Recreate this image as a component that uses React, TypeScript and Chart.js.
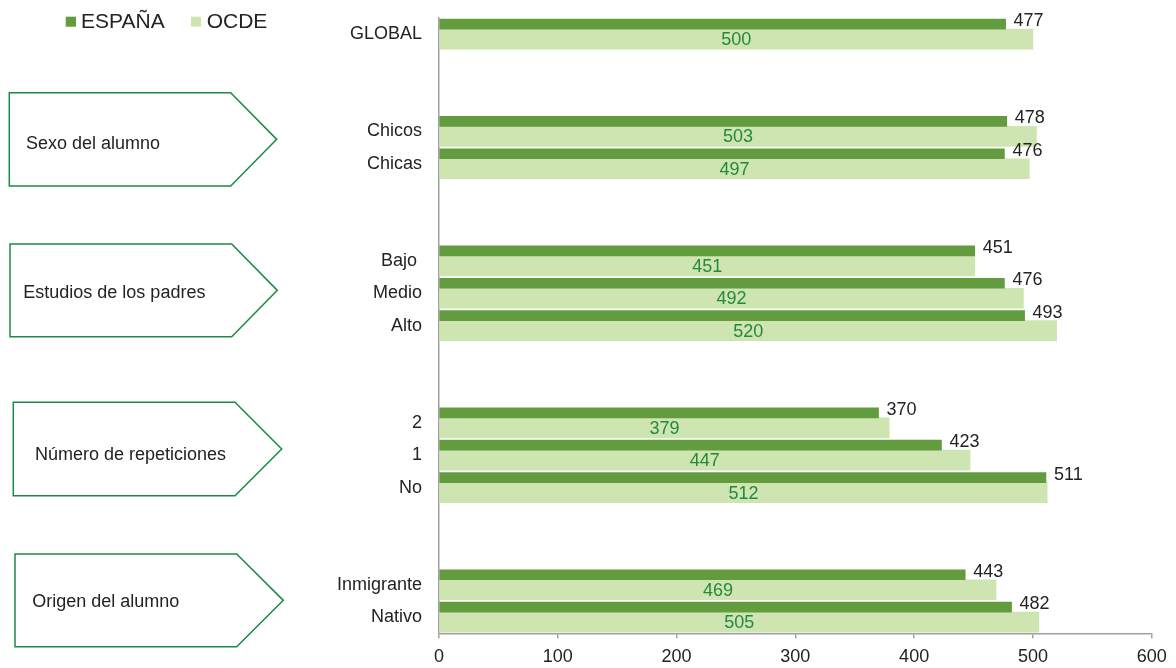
import React, { useEffect, useRef } from "react";
import { Chart, registerables } from "chart.js";

Chart.register(...registerables);

// ---------- data ----------
const categories = [
  "GLOBAL", "", "",
  "Chicos", "Chicas", "", "",
  "Bajo ", "Medio", "Alto", "", "",
  "2", "1", "No", "", "",
  "Inmigrante", "Nativo",
];
const espana = [477, null, null, 478, 476, null, null, 451, 476, 493, null, null, 370, 423, 511, null, null, 443, 482];
const ocde = [500, null, null, 503, 497, null, null, 451, 492, 520, null, null, 379, 447, 512, null, null, 469, 505];
const seriesNames = ["ESPAÑA", "OCDE"];
const groupLabels = ["Sexo del alumno", "Estudios de los padres", "Número de repeticiones", "Origen del alumno"];
const xMin = 0;
const xMax = 600;
const xStep = 100;

// ---------- styles / layout ----------
const DARK = "#639b3f";
const LIGHT = "#cee5b2";
const GREEN_TEXT = "#23893c";
const BOX_STROKE = "#1b8a45";
const TEXT = "#232323";
const AXIS = "#a0a0a0";
const FONT = "'Liberation Sans', Arial, sans-serif";
const THICK_E = 10;
const THICK_O = 20;

const boxLayout = [
  { l: 9.3, t: 92.7, r: 230.7, tip: 276.7, b: 186, tx: 26, ty: 148.5 },
  { l: 10, t: 244, r: 231.7, tip: 277.3, b: 336.7, tx: 23.3, ty: 297.5 },
  { l: 13.3, t: 402.3, r: 235, tip: 281.7, b: 495.7, tx: 35, ty: 460 },
  { l: 15, t: 554, r: 236.7, tip: 283.3, b: 646.7, tx: 32.3, ty: 606.5 },
];

const shiftPlugin = {
  id: "shiftBars",
  afterDatasetsUpdate(chart: any) {
    const m0 = chart.getDatasetMeta(0);
    const m1 = chart.getDatasetMeta(1);
    m0.data.forEach((el: any) => { el.y = el.y - THICK_O / 2; });
    m1.data.forEach((el: any) => { el.y = el.y + THICK_E / 2; });
  },
};

const labelPlugin = {
  id: "valueLabels",
  afterDatasetsDraw(chart: any) {
    const ctx = chart.ctx;
    ctx.save();
    ctx.font = `18px ${FONT}`;
    ctx.textBaseline = "middle";
    const m0 = chart.getDatasetMeta(0);
    m0.data.forEach((el: any, i: number) => {
      const v = espana[i];
      if (v == null) return;
      ctx.fillStyle = TEXT;
      ctx.textAlign = "left";
      ctx.fillText(String(v), el.x + 8, el.y - 3);
    });
    const m1 = chart.getDatasetMeta(1);
    m1.data.forEach((el: any, i: number) => {
      const v = ocde[i];
      if (v == null) return;
      ctx.fillStyle = GREEN_TEXT;
      ctx.textAlign = "center";
      ctx.fillText(String(v), (el.x + el.base) / 2, el.y + 1);
    });
    ctx.restore();
  },
};

const decorPlugin = {
  id: "decor",
  afterDraw(chart: any) {
    const ctx = chart.ctx;
    ctx.save();
    boxLayout.forEach((bx, i) => {
      const mid = (bx.t + bx.b) / 2;
      ctx.beginPath();
      ctx.moveTo(bx.l, bx.t);
      ctx.lineTo(bx.r, bx.t);
      ctx.lineTo(bx.tip, mid);
      ctx.lineTo(bx.r, bx.b);
      ctx.lineTo(bx.l, bx.b);
      ctx.closePath();
      ctx.fillStyle = "#ffffff";
      ctx.fill();
      ctx.lineWidth = 1.5;
      ctx.strokeStyle = BOX_STROKE;
      ctx.stroke();
      ctx.fillStyle = TEXT;
      ctx.font = `18px ${FONT}`;
      ctx.textAlign = "left";
      ctx.textBaseline = "alphabetic";
      ctx.fillText(groupLabels[i], bx.tx, bx.ty);
    });
    ctx.font = `21px ${FONT}`;
    ctx.textBaseline = "alphabetic";
    ctx.textAlign = "left";
    ctx.fillStyle = DARK;
    ctx.fillRect(65.7, 16.7, 10.3, 10);
    ctx.fillStyle = TEXT;
    ctx.fillText(seriesNames[0], 81, 28.3);
    ctx.fillStyle = LIGHT;
    ctx.fillRect(191, 16.7, 10, 10);
    ctx.fillStyle = TEXT;
    ctx.fillText(seriesNames[1], 206.7, 28.3);
    ctx.restore();
  },
};

export default function App() {
  const ref = useRef<HTMLCanvasElement | null>(null);
  useEffect(() => {
    if (!ref.current) return;
    const chart: any = new Chart(ref.current, {
      type: "bar",
      data: {
        labels: categories,
        datasets: [
          { label: seriesNames[0], data: espana, backgroundColor: DARK, barThickness: THICK_E, grouped: false },
          { label: seriesNames[1], data: ocde, backgroundColor: LIGHT, barThickness: THICK_O, grouped: false },
        ],
      } as any,
      options: {
        indexAxis: "y",
        animation: false,
        responsive: false,
        events: [],
        layout: { padding: { left: 0, right: 24.3, top: 18, bottom: 0 } },
        plugins: { legend: { display: false }, tooltip: { enabled: false } },
        scales: {
          x: {
            min: xMin,
            max: xMax,
            ticks: { stepSize: xStep, color: TEXT, font: { size: 18, family: FONT }, padding: 8 },
            grid: { display: true, drawOnChartArea: false, drawTicks: true, tickLength: 5, color: AXIS, lineWidth: 1.5 },
            border: { display: true, color: AXIS, width: 1.5 },
            afterFit: (s: any) => { s.height = 34.7; s.paddingLeft = 0; s.paddingRight = 0; },
          },
          y: {
            ticks: { color: TEXT, font: { size: 18, family: FONT }, padding: 17, autoSkip: false },
            grid: { display: false, drawTicks: false },
            border: { display: true, color: AXIS, width: 1.5 },
            afterFit: (s: any) => { s.width = 439; s.paddingTop = 0; s.paddingBottom = 0; },
          },
        },
      } as any,
      plugins: [shiftPlugin, labelPlugin, decorPlugin],
    });
    return () => chart.destroy();
  }, []);
  return (
    <div style={{ position: "fixed", left: 0, top: 0, width: 1176, height: 668, background: "#fff" }}>
      <canvas ref={ref} width={1176} height={668} style={{ width: 1176, height: 668 }} />
    </div>
  );
}
